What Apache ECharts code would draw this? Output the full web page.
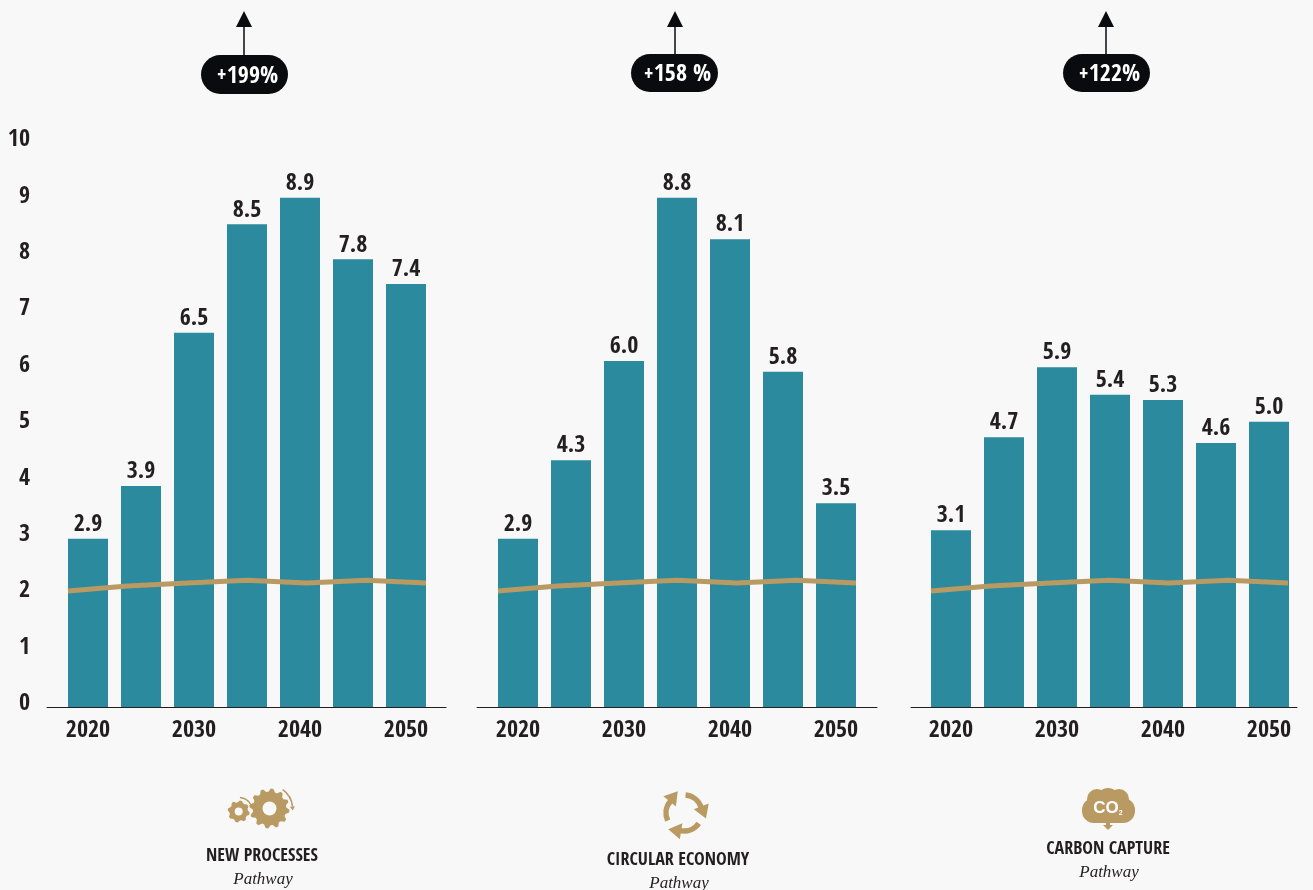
<!DOCTYPE html>
<html>
<head>
<meta charset="utf-8">
<style>html,body{margin:0;padding:0;background:#f8f8f8}#c{width:1313px;height:890px}</style>
<script src="https://cdn.jsdelivr.net/npm/echarts@6/dist/echarts.min.js"></script>
</head>
<body>
<div id="c"></div>
<script>
const years = [2020, 2025, 2030, 2035, 2040, 2045, 2050];
const yearTicks = [2020, 2030, 2040, 2050];
const yTicksMax = 10;

// Bar heights as drawn, and the figures printed over them
const newProcessesBars = [2.93, 3.85, 6.52, 8.41, 8.87, 7.80, 7.37];
const newProcessesLabels = ['2.9', '3.9', '6.5', '8.5', '8.9', '7.8', '7.4'];
const circularEconomyBars = [2.93, 4.30, 6.03, 8.87, 8.15, 5.84, 3.55];
const circularEconomyLabels = ['2.9', '4.3', '6.0', '8.8', '8.1', '5.8', '3.5'];
const carbonCaptureBars = [3.08, 4.70, 5.92, 5.44, 5.35, 4.60, 4.97];
const carbonCaptureLabels = ['3.1', '4.7', '5.9', '5.4', '5.3', '4.6', '5.0'];
const baselineLine = [2.02, 2.11, 2.16, 2.21, 2.16, 2.21, 2.16];

const badgeTexts = ['199%', '158 %', '122%'];
const pathwayNames = ['NEW PROCESSES', 'CIRCULAR ECONOMY', 'CARBON CAPTURE'];
const pathwayWord = 'Pathway';

const BG = '#f8f8f8', TEAL = '#2b8a9e', GOLD = '#b89a62', INK = '#231f20', BLACK = '#0a0b0f';
const NARROW = '"Open Sans Condensed","Roboto Condensed",sans-serif';

const TOP = 133, PLOT_H = 574, PX_PER_YEAR = 10.6;
const panels = [
  { bars: newProcessesBars, labels: newProcessesLabels, left: 47, right: 446, x2020: 88, lineL: 68, lineR: 426,
    arrowX: 244, badge: [201, 55, 87, 39], nameX: 262, nameY: 856, wordY: 880 },
  { bars: circularEconomyBars, labels: circularEconomyLabels, left: 477, right: 877, x2020: 518, lineL: 498, lineR: 856,
    arrowX: 675, badge: [631, 54, 87, 38], nameX: 678, nameY: 860, wordY: 884 },
  { bars: carbonCaptureBars, labels: carbonCaptureLabels, left: 911, right: 1297, x2020: 951, lineL: 931, lineR: 1288,
    arrowX: 1106, badge: [1063, 54, 87, 38], nameX: 1108, nameY: 849, wordY: 873 }
];

const grid = [], xAxis = [], yAxis = [], series = [], graphic = [];

// Shared value labels, on their own hidden-line axis
grid.push({ left: 30, width: 10, top: 140, height: 564 });
xAxis.push({ gridIndex: 0, type: 'value', show: false });
yAxis.push({ gridIndex: 0, type: 'value', min: 0, max: yTicksMax, interval: 1,
  axisLine: { show: false }, axisTick: { show: false }, splitLine: { show: false },
  axisLabel: { margin: 0, color: INK, fontFamily: NARROW, fontWeight: 'bold', fontSize: 24 } });

panels.forEach(p => {
  // bars
  let gi = grid.length;
  grid.push({ left: p.left, width: p.right - p.left, top: TOP, height: PLOT_H });
  xAxis.push({ gridIndex: gi, type: 'value',
    min: 2020 - (p.x2020 - p.left) / PX_PER_YEAR,
    max: 2020 + (p.right - p.x2020) / PX_PER_YEAR,
    splitLine: { show: false }, axisTick: { show: false },
    axisLine: { show: true, onZero: false, lineStyle: { color: INK, width: 1 } },
    axisLabel: { customValues: yearTicks, formatter: v => String(v), margin: 12, color: INK,
      fontFamily: NARROW, fontWeight: 'bold', fontSize: 24 } });
  yAxis.push({ gridIndex: gi, type: 'value', min: 0, max: yTicksMax, show: false, splitLine: { show: false } });
  series.push({ type: 'bar', xAxisIndex: gi, yAxisIndex: gi, barWidth: 40, z: 2,
    data: years.map((y, i) => [y, p.bars[i]]),
    itemStyle: { color: TEAL },
    label: { show: true, position: 'top', distance: 2, color: INK, fontFamily: NARROW, fontWeight: 'bold', fontSize: 24,
      formatter: o => p.labels[o.dataIndex] } });

  // gold line, running edge to edge of the bars
  gi = grid.length;
  grid.push({ left: p.lineL, width: p.lineR - p.lineL, top: TOP, height: PLOT_H });
  xAxis.push({ gridIndex: gi, type: 'category', data: years.map(String), boundaryGap: false, show: false });
  yAxis.push({ gridIndex: gi, type: 'value', min: 0, max: yTicksMax, show: false, splitLine: { show: false } });
  series.push({ type: 'line', xAxisIndex: gi, yAxisIndex: gi, data: baselineLine, z: 3, symbol: 'none', smooth: false,
    lineStyle: { color: GOLD, width: 5, cap: 'butt' } });

  // arrow and badge
  const [bx, by, bw, bh] = p.badge;
  graphic.push({ type: 'line', shape: { x1: p.arrowX, y1: 24, x2: p.arrowX, y2: by + 2 }, style: { stroke: BLACK, lineWidth: 1.5 } });
  graphic.push({ type: 'polygon', shape: { points: [[p.arrowX, 11], [p.arrowX - 8, 27], [p.arrowX + 8, 27]] }, style: { fill: BLACK } });
  graphic.push({ type: 'rect', shape: { x: bx, y: by, width: bw, height: bh, r: bh / 2 }, style: { fill: BLACK } });
  const idx = panels.indexOf(p);
  graphic.push({ type: 'text', x: bx + bw / 2 + 3, y: by + bh / 2 + 2, z: 10, style: {
    text: '{p|+}{n|' + badgeTexts[idx] + '}', align: 'center', verticalAlign: 'middle',
    rich: { p: { fill: '#fff', fontFamily: NARROW, fontSize: 22, fontWeight: 'normal' },
            n: { fill: '#fff', fontFamily: NARROW, fontSize: 24, fontWeight: 'bold' } } } });

  // pathway captions
  graphic.push({ type: 'text', x: p.nameX, y: p.nameY, style: { text: pathwayNames[idx], align: 'center', verticalAlign: 'middle',
    fill: INK, fontFamily: NARROW, fontWeight: 'bold', fontSize: 18 } });
  graphic.push({ type: 'text', x: p.nameX + 1, y: p.wordY, style: { text: pathwayWord, align: 'center', verticalAlign: 'middle',
    fill: INK, fontFamily: '"Liberation Serif",serif', fontStyle: 'italic', fontSize: 17 } });
});

// Icons
function gear(cx, cy, r, hole, teeth) {
  const pts = [], n = teeth * 4, root = r * 0.84;
  for (let i = 0; i < n; i++) {
    const a = (i + 0.5) / n * Math.PI * 2, q = i % 4;
    const rad = (q === 0 || q === 1) ? r : root;
    pts.push([cx + rad * Math.cos(a), cy + rad * Math.sin(a)]);
  }
  graphic.push({ type: 'polygon', shape: { points: pts }, style: { fill: GOLD } });
  graphic.push({ type: 'circle', shape: { cx, cy, r: hole }, style: { fill: BG } });
}
function arcStroke(cx, cy, r, fromDeg, toDeg, width) {
  graphic.push({ type: 'arc', shape: { cx, cy, r, startAngle: fromDeg * Math.PI / 180, endAngle: toDeg * Math.PI / 180, clockwise: true },
    style: { stroke: GOLD, lineWidth: width, fill: null } });
}
function head(cx, cy, r, deg, size, half) {
  const a = deg * Math.PI / 180, ux = Math.cos(a), uy = Math.sin(a), tx = -uy, ty = ux;
  const bx = cx + r * ux, by = cy + r * uy;
  graphic.push({ type: 'polygon', shape: { points: [
    [bx + tx * size, by + ty * size], [bx + ux * half, by + uy * half], [bx - ux * half, by - uy * half]
  ] }, style: { fill: GOLD } });
}
// gears
gear(269.5, 808.5, 20, 7, 12);
gear(238.7, 811.5, 11, 4, 8);
arcStroke(269.5, 808.5, 23, -55, -5, 1.6);
head(269.5, 808.5, 23, -5, 4, 2.5);
arcStroke(238.7, 811.5, 14, -85, -30, 1.4);
head(238.7, 811.5, 14, -30, 3.5, 2.2);
// recycle
[0, 1, 2].forEach(k => {
  const base = -85 + 120 * k;
  arcStroke(684, 813, 18, base, base + 66, 5.5);
  head(684, 813, 18.5, base + 64, 13, 8);
});
// CO2 cloud
[[1108, 799, 11], [1097, 799, 10], [1119, 799, 10]].forEach(c => {
  graphic.push({ type: 'circle', shape: { cx: c[0], cy: c[1], r: c[2] }, style: { fill: GOLD } });
});
graphic.push({ type: 'rect', shape: { x: 1082, y: 798, width: 53, height: 25, r: 12 }, style: { fill: GOLD } });
graphic.push({ type: 'rect', shape: { x: 1106, y: 820, width: 4, height: 6 }, style: { fill: GOLD } });
graphic.push({ type: 'polygon', shape: { points: [[1103, 825], [1113, 825], [1108, 830]] }, style: { fill: GOLD } });
graphic.push({ type: 'text', x: 1108, y: 808, z: 10, style: { text: '{a|CO}{b|2}', align: 'center', verticalAlign: 'middle',
  rich: { a: { fill: '#fff', fontFamily: '"Liberation Sans",sans-serif', fontWeight: 'bold', fontSize: 17 },
          b: { fill: '#fff', fontFamily: '"Liberation Sans",sans-serif', fontWeight: 'bold', fontSize: 7, verticalAlign: 'bottom', padding: [8, 0, 0, 0] } } } });

const chart = echarts.init(document.getElementById('c'), null, { renderer: 'canvas' });
chart.setOption({ animation: false, backgroundColor: BG, tooltip: { show: false }, grid, xAxis, yAxis, series, graphic });
</script>
</body>
</html>
